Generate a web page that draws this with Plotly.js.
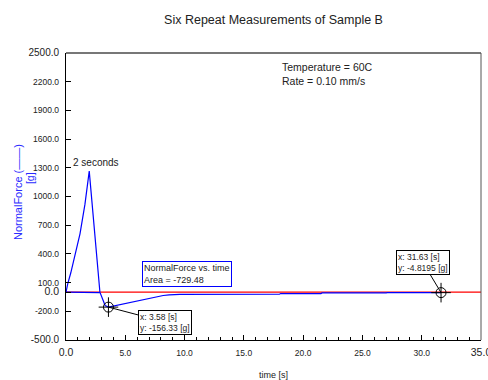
<!DOCTYPE html>
<html>
<head>
<meta charset="utf-8">
<script src="https://cdn.plot.ly/plotly-3.0.1.min.js"></script>
<style>html,body{margin:0;padding:0;background:#fff;}#chart{width:488px;height:380px;}</style>
</head>
<body>
<div id="chart"></div>
<script>
// Data
var timeS = [0, 0.15, 0.4, 0.76, 1.18, 1.6, 1.96, 2.86, 3.3, 3.58, 5.0, 6.5, 8.2, 8.7, 9.6, 18.0, 18.1, 21.5, 21.6, 27.0, 27.1, 31.63];
var normalForce = [0, 90, 200, 380, 610, 920, 1265, 0, -140, -156.33, -120, -75, -35, -28, -24, -22, -15, -15, -8, -8, -5, -4.8195];
var returnTime = [0, 2.86];
var returnForce = [0, -5];
var zeroTime = [0, 35];
var zeroForce = [0, 0];
var cursorTime = [3.58, 31.63];
var cursorForce = [-156.33, -4.8195];
var yTickVals = [-500, -200, 0, 100, 400, 700, 1000, 1300, 1600, 1900, 2200, 2500];
var yTickText = ['<span style="font-size:10px">-500.0</span>', '-200.0', '<span style="font-size:10.5px">0.0</span>', '100.0', '400.0', '700.0', '1000.0', '1300.0', '1600.0', '1900.0', '2200.0', '<span style="font-size:10px">2500.0</span>'];
var xTickVals = [0, 5, 10, 15, 20, 25, 30, 35];
var xTickText = ['<span style="font-size:10.5px">0.0</span>', '5.0', '10.0', '15.0', '20.0', '25.0', '30.0', '<span style="font-size:10.5px">35.0</span>'];

var FONT = 'Liberation Sans, Arial, sans-serif';
var traces = [
  {x: zeroTime, y: zeroForce, mode: 'lines', line: {color: '#ff0000', width: 1.2}, hoverinfo: 'none', showlegend: false},
  {x: returnTime, y: returnForce, mode: 'lines', line: {color: '#0000ff', width: 1.2}, hoverinfo: 'none', showlegend: false},
  {x: timeS, y: normalForce, mode: 'lines', line: {color: '#0000ff', width: 1.2}, name: 'NormalForce', showlegend: false},
  {x: cursorTime, y: cursorForce, mode: 'markers', marker: {symbol: 'circle-open', size: 10, color: '#000', line: {width: 1, color: '#000'}}, hoverinfo: 'none', showlegend: false},
  {x: cursorTime, y: cursorForce, mode: 'markers', marker: {symbol: 'cross-thin-open', size: 14, color: '#000', line: {width: 1, color: '#000'}}, hoverinfo: 'none', showlegend: false}
];

function px(p) { return (p - 66) / 415.5; }
function py(p) { return (340 - p) / 287; }

var layout = {
  width: 488, height: 380,
  margin: {l: 66, r: 7, t: 53, b: 40},
  paper_bgcolor: '#fff', plot_bgcolor: '#fff',
  font: {family: FONT, color: '#222', size: 8.5},
  title: {text: 'Six Repeat Measurements of Sample B', font: {family: FONT, size: 12.5, color: '#222'}, x: 0.5, xref: 'paper', xanchor: 'center', y: 1 - 20/380, yref: 'container', yanchor: 'middle'},
  xaxis: {
    range: [0, 35], tickmode: 'array', tickvals: xTickVals, ticktext: xTickText,
    ticks: 'inside', ticklen: 5, tickcolor: '#000', tickwidth: 1,
    minor: {ticks: 'inside', dtick: 1, ticklen: 3, tickcolor: '#000', tickwidth: 1, showgrid: false},
    showline: true, linecolor: '#000', linewidth: 1.2, showgrid: false, zeroline: false,
    tickfont: {size: 8.5, color: '#222'}, ticklabelstandoff: 5, ticklabeloverflow: 'allow',
    title: {text: 'time [s]', font: {size: 9, color: '#222'}, standoff: 15}
  },
  yaxis: {
    range: [-500, 2500], tickmode: 'array', tickvals: yTickVals, ticktext: yTickText,
    ticks: 'inside', ticklen: 5, tickcolor: '#000', tickwidth: 1,
    showline: true, linecolor: '#000', linewidth: 1.2, showgrid: false, zeroline: false,
    tickfont: {size: 8.5, color: '#222'}, ticklabelstandoff: 4,
    title: {text: ''}
  },
  shapes: [
    {type: 'line', xref: 'paper', yref: 'paper', x0: 0, x1: 1, y0: 1, y1: 1, line: {color: '#777', width: 2}},
    {type: 'line', xref: 'paper', yref: 'paper', x0: 1, x1: 1, y0: 0, y1: 1, line: {color: '#555', width: 1}}
  ],
  annotations: [
    {text: 'NormalForce (——)', xref: 'paper', yref: 'paper', x: px(18), y: py(192), xanchor: 'center', yanchor: 'middle', textangle: -90, showarrow: false, font: {size: 11, color: '#2a2aff'}},
    {text: '[g]', xref: 'paper', yref: 'paper', x: px(30), y: py(178), xanchor: 'center', yanchor: 'middle', textangle: -90, showarrow: false, font: {size: 10.5, color: '#2a2aff'}},
    {text: '2 seconds', xref: 'paper', yref: 'paper', x: px(71), y: py(162), xanchor: 'left', yanchor: 'middle', showarrow: false, font: {size: 10, color: '#222'}},
    {text: 'Temperature = 60C<br>Rate = 0.10 mm/s', xref: 'paper', yref: 'paper', x: px(280), y: py(59), xanchor: 'left', yanchor: 'top', align: 'left', showarrow: false, font: {size: 10.5, color: '#222'}},
    {text: 'NormalForce vs. time<br>Area = -729.48', xref: 'paper', yref: 'paper', x: px(142), y: py(261), xanchor: 'left', yanchor: 'top', align: 'left', showarrow: false, bordercolor: '#0000ff', borderwidth: 1, borderpad: 1, bgcolor: '#fff', font: {size: 9, color: '#222'}},
    {text: 'x: 3.58 [s]<br>y: -156.33 [g]', x: cursorTime[0], y: cursorForce[0], xref: 'x', yref: 'y', ax: 57, ay: 15, axref: 'pixel', ayref: 'pixel', showarrow: true, arrowhead: 0, arrowwidth: 1, arrowcolor: '#000', align: 'left', bordercolor: '#000', borderwidth: 1, borderpad: 1, bgcolor: '#fff', font: {size: 8.5, color: '#222'}},
    {text: 'x: 31.63 [s]<br>y: -4.8195 [g]', x: cursorTime[1], y: cursorForce[1], xref: 'x', yref: 'y', ax: -18, ay: -30, axref: 'pixel', ayref: 'pixel', showarrow: true, arrowhead: 0, arrowwidth: 1, arrowcolor: '#000', align: 'left', bordercolor: '#000', borderwidth: 1, borderpad: 1, bgcolor: '#fff', font: {size: 8.5, color: '#222'}}
  ]
};

Plotly.newPlot('chart', traces, layout, {displayModeBar: false, staticPlot: true});
</script>
</body>
</html>
